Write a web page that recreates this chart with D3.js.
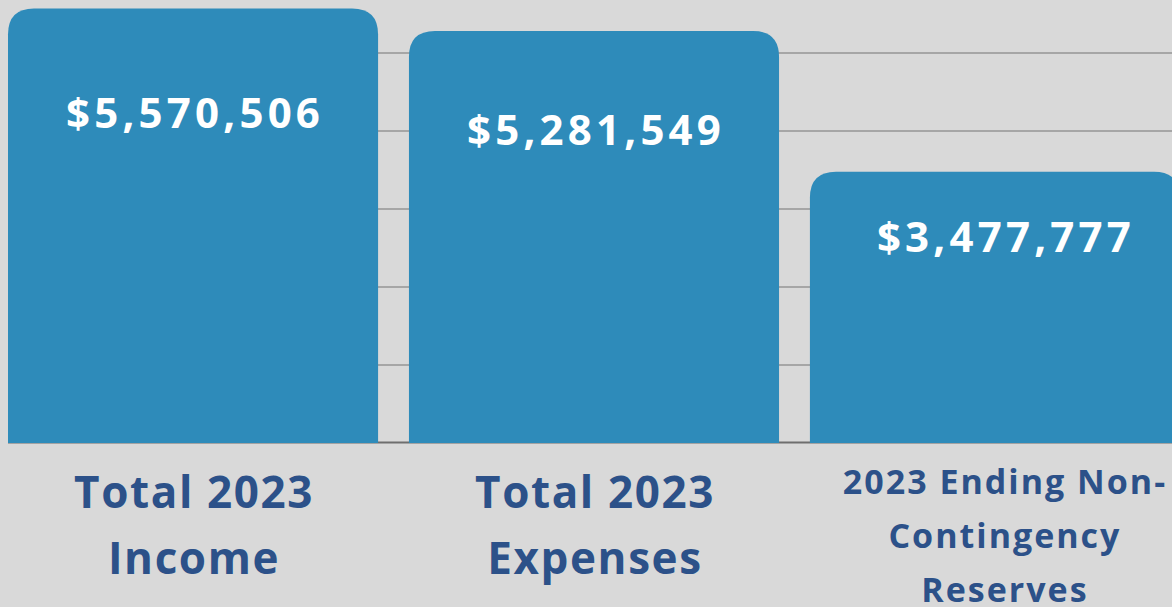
<!DOCTYPE html>
<html>
<head>
<meta charset="utf-8">
<script src="https://cdn.jsdelivr.net/npm/d3@7"></script>
<style>
  html, body { margin: 0; padding: 0; background: #d9d9d9; overflow: hidden; }
  svg { display: block; font-family: "Open Sans", sans-serif; }
</style>
</head>
<body>
<div id="plt"></div>
<script>
// chart data
var categories = ["Total 2023 Income", "Total 2023 Expenses", "2023 Ending Non-Contingency Reserves"];
var values = [5570506, 5281549, 3477777];
var categoryLines = [["Total 2023", "Income"], ["Total 2023", "Expenses"], ["2023 Ending Non-", "Contingency", "Reserves"]];
var gridTicks = [1000000, 2000000, 3000000, 4000000, 5000000];

var width = 1172, height = 607;
var baseY = 443;

var svg = d3.select("#plt")
            .append("svg")
            .attr("width", width)
            .attr("height", height);

svg.append("rect")
   .attr("width", width)
   .attr("height", height)
   .attr("fill", "#d9d9d9");

// scales
var x = d3.scaleBand()
          .domain(categories)
          .range([8, 1180])
          .paddingInner(0.077)
          .paddingOuter(0);

var y = d3.scaleLinear()
          .domain([0, 5000000])
          .range([baseY, 53]);

// gridlines
svg.append("g")
   .selectAll("line")
   .data(gridTicks)
   .enter()
   .append("line")
   .attr("x1", 8)
   .attr("x2", width)
   .attr("y1", function(d) { return y(d); })
   .attr("y2", function(d) { return y(d); })
   .attr("stroke", "#a6a6a6")
   .attr("stroke-width", 2);

// baseline
svg.append("line")
   .attr("x1", 8)
   .attr("x2", width)
   .attr("y1", baseY - 0.5)
   .attr("y2", baseY - 0.5)
   .attr("stroke", "#6e6e6e")
   .attr("stroke-width", 2);

// bars with rounded top corners
var r = 26;
function topRounded(x0, y0, w, h) {
  return "M" + x0 + "," + (y0 + h) +
         "V" + (y0 + r) +
         "Q" + x0 + "," + y0 + " " + (x0 + r) + "," + y0 +
         "H" + (x0 + w - r) +
         "Q" + (x0 + w) + "," + y0 + " " + (x0 + w) + "," + (y0 + r) +
         "V" + (y0 + h) + "Z";
}

svg.selectAll("path.bar")
   .data(values)
   .enter()
   .append("path")
   .attr("class", "bar")
   .attr("d", function(d, i) {
     return topRounded(x(categories[i]), y(d), x.bandwidth(), baseY - y(d));
   })
   .attr("fill", "#2e8bba");

// value labels inside bars
var fmt = d3.format("$,");
svg.selectAll("text.val")
   .data(values)
   .enter()
   .append("text")
   .attr("class", "val")
   .attr("x", function(d, i) { return x(categories[i]) + x.bandwidth() / 2 + (i === 2 ? 9 : 0) + 2; })
   .attr("y", function(d) { return y(d * 0.76) + 15; })
   .attr("text-anchor", "middle")
   .attr("fill", "#ffffff")
   .style("font-size", "42px")
   .style("font-weight", 700)
   .style("letter-spacing", "4.2px")
   .text(function(d) { return fmt(d); });

// category labels under bars
svg.selectAll("text.cat")
   .data(categoryLines)
   .enter()
   .append("text")
   .attr("class", "cat")
   .attr("text-anchor", "middle")
   .attr("fill", "#2c5189")
   .style("font-weight", 700)
   .style("font-size", function(d) { return d.length > 2 ? "34px" : "44px"; })
   .style("letter-spacing", function(d) { return d.length > 2 ? "2px" : "1.6px"; })
   .each(function(d, i) {
     var cx = x(categories[i]) + x.bandwidth() / 2 + (i === 2 ? 9 : 0) + 1;
     var first = d.length > 2 ? 494 : 508;
     var step = d.length > 2 ? 54 : 66;
     d3.select(this).selectAll("tspan")
       .data(d)
       .enter()
       .append("tspan")
       .attr("x", cx)
       .attr("y", function(t, j) { return first + j * step; })
       .text(function(t) { return t; });
   });
</script>
</body>
</html>
